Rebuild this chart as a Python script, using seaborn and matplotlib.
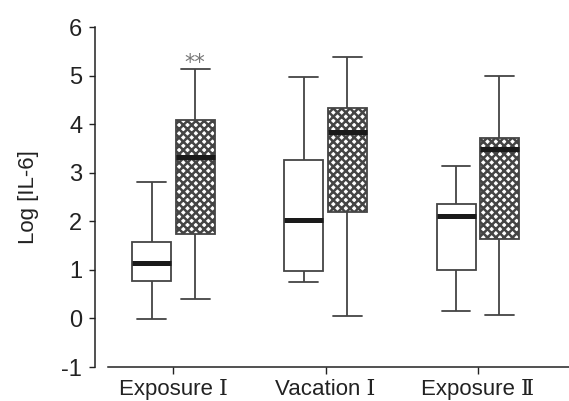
import pandas as pd
import seaborn as sns
import matplotlib.pyplot as plt

# five-number summaries: [min, Q1, median, Q3, max]
periods = ["Exposure Ⅰ", "Vacation Ⅰ", "Exposure Ⅱ"]
groups = ["A", "B"]
group_a = [
    [-0.02, 0.78, 1.15, 1.58, 2.80],
    [0.76, 0.97, 2.03, 3.26, 4.97],
    [0.16, 0.99, 2.10, 2.35, 3.13],
]
group_b = [
    [0.39, 1.73, 3.33, 4.09, 5.14],
    [0.06, 2.20, 3.83, 4.34, 5.38],
    [0.08, 1.63, 3.49, 3.72, 5.00],
]

rows = []
for p, a, b in zip(periods, group_a, group_b):
    for v in a:
        rows.append((p, "A", v))
    for v in b:
        rows.append((p, "B", v))
df = pd.DataFrame(rows, columns=["period", "group", "value"])

sns.set_style("white")
plt.rcParams["font.family"] = ["Liberation Sans", "DejaVu Serif"]
plt.rcParams["axes.unicode_minus"] = False
plt.rcParams["hatch.linewidth"] = 1.8
plt.rcParams["hatch.color"] = "#111111"

fig = plt.figure(figsize=(5.69, 4.01), dpi=100)
ax = fig.add_axes([108 / 569, (401 - 367) / 401, (569 - 108) / 569, 340 / 401])

edge = "#444444"
sns.boxplot(
    data=df, x="period", y="value", hue="group", order=periods, hue_order=groups,
    whis=(0, 100), width=0.57, gap=0.1, palette=["white", "white"],
    linecolor=edge, linewidth=1.3, legend=False, ax=ax,
    medianprops=dict(color="#1a1a1a", linewidth=3.6),
)

# dotted fill on the second group's boxes
for patch in ax.patches[3:6]:
    patch.set_hatch("xxxx")

# wider whisker caps
for ln in ax.lines:
    xs, ys = ln.get_xdata(), ln.get_ydata()
    if len(xs) == 2 and ys[0] == ys[1] and ln.get_linewidth() < 2:
        c = (xs[0] + xs[1]) / 2
        ln.set_xdata([c - 0.095, c + 0.095])

ax.text(0 + 0.57 / 4, group_b[0][4] - 0.08, "**", ha="center", va="bottom",
        fontsize=15, color="#777777", family="DejaVu Sans")

ax.set_ylim(-1, 6)
ax.set_xlim(-0.43, 2.6)
ax.set_yticks(range(-1, 7))
ax.set_xlabel("")
ax.set_ylabel("Log [IL-6]", fontsize=16, color="#222222", labelpad=16)
ax.tick_params(axis="y", left=True, length=4, width=1, pad=5, labelsize=17,
               colors="#222222")
ax.tick_params(axis="x", bottom=True, length=5, width=1, pad=3.5, labelsize=16,
               colors="#222222")
for s in ["top", "right"]:
    ax.spines[s].set_visible(False)
ax.spines["left"].set_position(("outward", 9.5))
for s in ["left", "bottom"]:
    ax.spines[s].set_color("#222222")
    ax.spines[s].set_linewidth(1.1)

fig.savefig("out.png", dpi=100)
